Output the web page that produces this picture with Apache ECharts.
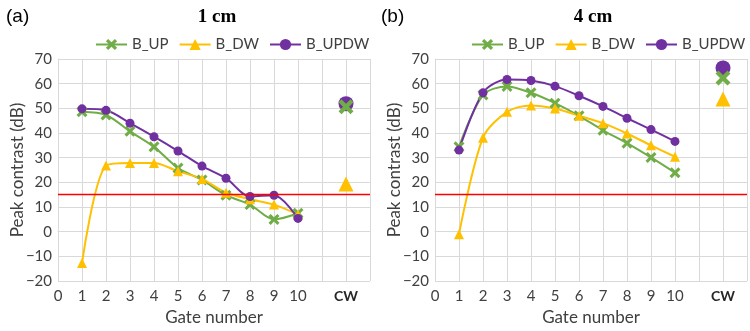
<!DOCTYPE html>
<html>
<head>
<meta charset="utf-8">
<script src="https://cdn.jsdelivr.net/npm/echarts@6/dist/echarts.min.js"></script>
<style>
html, body { margin: 0; padding: 0; background: #fff; }
#chart { width: 750px; height: 331px; }
</style>
</head>
<body>
<div id="chart"></div>
<script>
// gate numbers, CW shown at x = 12
var gates = [1, 2, 3, 4, 5, 6, 7, 8, 9, 10];
var cwPos = 12;

// (a) 1 cm
var upA = [48.6, 47.3, 40.7, 34.4, 25.8, 21.0, 14.8, 11.0, 5.0, 7.5];
var dwA = [-12.7, 26.8, 27.9, 27.9, 24.5, 21.4, 15.8, 13.2, 11.0, 7.0];
var updwA = [49.8, 49.2, 44.0, 38.5, 32.7, 26.6, 21.7, 14.3, 14.8, 5.4];
var cwA = { up: 50.6, dw: 19.3, updw: 51.9 };

// (b) 4 cm
var upB = [34.4, 55.4, 58.9, 56.3, 52.1, 47.0, 41.1, 35.9, 30.1, 23.9];
var dwB = [-1.0, 38.1, 48.6, 51.2, 49.9, 47.0, 44.0, 39.8, 35.0, 30.4];
var updwB = [33.1, 56.3, 61.7, 61.3, 59.0, 55.1, 50.8, 46.0, 41.4, 36.6];
var cwB = { up: 62.3, dw: 53.8, updw: 66.4 };

var threshold = 15;
var xTickLabels = ['0', '1', '2', '3', '4', '5', '6', '7', '8', '9', '10', '', 'CW', ''];

var GREEN = '#70AD47', GOLD = '#FFC000', PURPLE = '#7030A0';
var crossPath = 'path://M0,2 L2,0 L5,3 L8,0 L10,2 L7,5 L10,8 L8,10 L5,7 L2,10 L0,8 L3,5 Z';
var FONT = 'Lato, "Open Sans", sans-serif';

function pairs(vals) {
	var out = [];
	for (var i = 0; i < gates.length; i++) {
		out.push([gates[i], vals[i]]);
	}
	return out;
}

function lineSeries(name, vals, color, symbol, size, idx, withLine) {
	var s = {
		name: name,
		type: 'line',
		xAxisIndex: idx,
		yAxisIndex: idx,
		data: pairs(vals),
		smooth: 0.3,
		symbol: symbol,
		symbolSize: size,
		lineStyle: { color: color, width: 2 },
		itemStyle: { color: color, opacity: 1 },
		z: 3
	};
	if (withLine) {
		s.markLine = {
			silent: true,
			symbol: 'none',
			label: { show: false },
			lineStyle: { color: '#FF0000', width: 1.3, type: 'solid' },
			data: [{ yAxis: threshold }]
		};
	}
	return s;
}

function cwSeries(name, val, color, symbol, size, idx) {
	return {
		name: name,
		type: 'scatter',
		xAxisIndex: idx,
		yAxisIndex: idx,
		data: [[cwPos, val]],
		symbol: symbol,
		symbolSize: size,
		itemStyle: { color: color, opacity: 1 },
		z: 4
	};
}

function xAxis(idx) {
	return {
		type: 'value',
		gridIndex: idx,
		min: 0,
		max: 13,
		interval: 1,
		name: 'Gate number',
		nameLocation: 'middle',
		nameGap: 25,
		nameTextStyle: { fontFamily: FONT, fontSize: 17, color: '#404040' },
		axisLine: { show: true, lineStyle: { color: '#D9D9D9' } },
		axisTick: { show: false },
		splitLine: { show: true, lineStyle: { color: '#D9D9D9' } },
		axisLabel: {
			fontFamily: FONT, fontSize: 15, color: '#404040', margin: 8,
			formatter: function (v) {
				var t = xTickLabels[v] || '';
				return t == 'CW' ? '{b|CW}' : t;
			},
			rich: { b: { fontFamily: FONT, fontSize: 14, fontWeight: 'bold', color: '#262626' } }
		}
	};
}

function yAxis(idx) {
	return {
		type: 'value',
		gridIndex: idx,
		min: -20,
		max: 70,
		interval: 10,
		name: 'Peak contrast (dB)',
		nameLocation: 'middle',
		nameGap: 32,
		nameMoveOverlap: false,
		nameTextStyle: { fontFamily: FONT, fontSize: 17, color: '#404040' },
		axisLine: { show: true, lineStyle: { color: '#D9D9D9' } },
		axisTick: { show: false },
		splitLine: { show: true, lineStyle: { color: '#D9D9D9' } },
		axisLabel: {
			fontFamily: FONT, fontSize: 15, color: '#404040', margin: 6,
			formatter: function (v) { return String(v).replace('-', '\u2212'); }
		}
	};
}

function legend(left) {
	return {
		top: 32,
		left: left,
		width: 300,
		itemWidth: 31,
		itemHeight: 14,
		itemGap: 10,
		textStyle: { fontFamily: FONT, fontSize: 15, color: '#404040' },
		data: ['B_UP', 'B_DW', 'B_UPDW']
	};
}

var chart = echarts.init(document.getElementById('chart'));
var option = {
	animation: false,
	title: [
		{ text: '(a)', left: 1, top: 2, textStyle: { fontFamily: 'Liberation Sans', fontSize: 19, fontWeight: 'normal', color: '#000' } },
		{ text: '1 cm', left: 212, top: 3, textAlign: 'center', textStyle: { fontFamily: 'Liberation Serif', fontSize: 19, fontWeight: 'bold', color: '#000' } },
		{ text: '(b)', left: 376, top: 2, textStyle: { fontFamily: 'Liberation Sans', fontSize: 19, fontWeight: 'normal', color: '#000' } },
		{ text: '4 cm', left: 588, top: 3, textAlign: 'center', textStyle: { fontFamily: 'Liberation Serif', fontSize: 19, fontWeight: 'bold', color: '#000' } }
	],
	legend: [legend(90), legend(466)],
	grid: [
		{ left: 58, top: 59, width: 312, height: 231 },
		{ left: 435, top: 59, width: 312, height: 231 }
	],
	xAxis: [xAxis(0), xAxis(1)],
	yAxis: [yAxis(0), yAxis(1)],
	series: [
		lineSeries('B_UP', upA, GREEN, crossPath, 11, 0, true),
		lineSeries('B_DW', dwA, GOLD, 'triangle', 10, 0, false),
		lineSeries('B_UPDW', updwA, PURPLE, 'circle', 9, 0, false),
		lineSeries('B_UP', upB, GREEN, crossPath, 11, 1, true),
		lineSeries('B_DW', dwB, GOLD, 'triangle', 10, 1, false),
		lineSeries('B_UPDW', updwB, PURPLE, 'circle', 9, 1, false),
		cwSeries('B_UPDW', cwA.updw, PURPLE, 'circle', 15, 0),
		cwSeries('B_UP', cwA.up, GREEN, crossPath, 15, 0),
		cwSeries('B_DW', cwA.dw, GOLD, 'triangle', 15, 0),
		cwSeries('B_UPDW', cwB.updw, PURPLE, 'circle', 15, 1),
		cwSeries('B_UP', cwB.up, GREEN, crossPath, 15, 1),
		cwSeries('B_DW', cwB.dw, GOLD, 'triangle', 15, 1)
	]
};
chart.setOption(option);
</script>
</body>
</html>
